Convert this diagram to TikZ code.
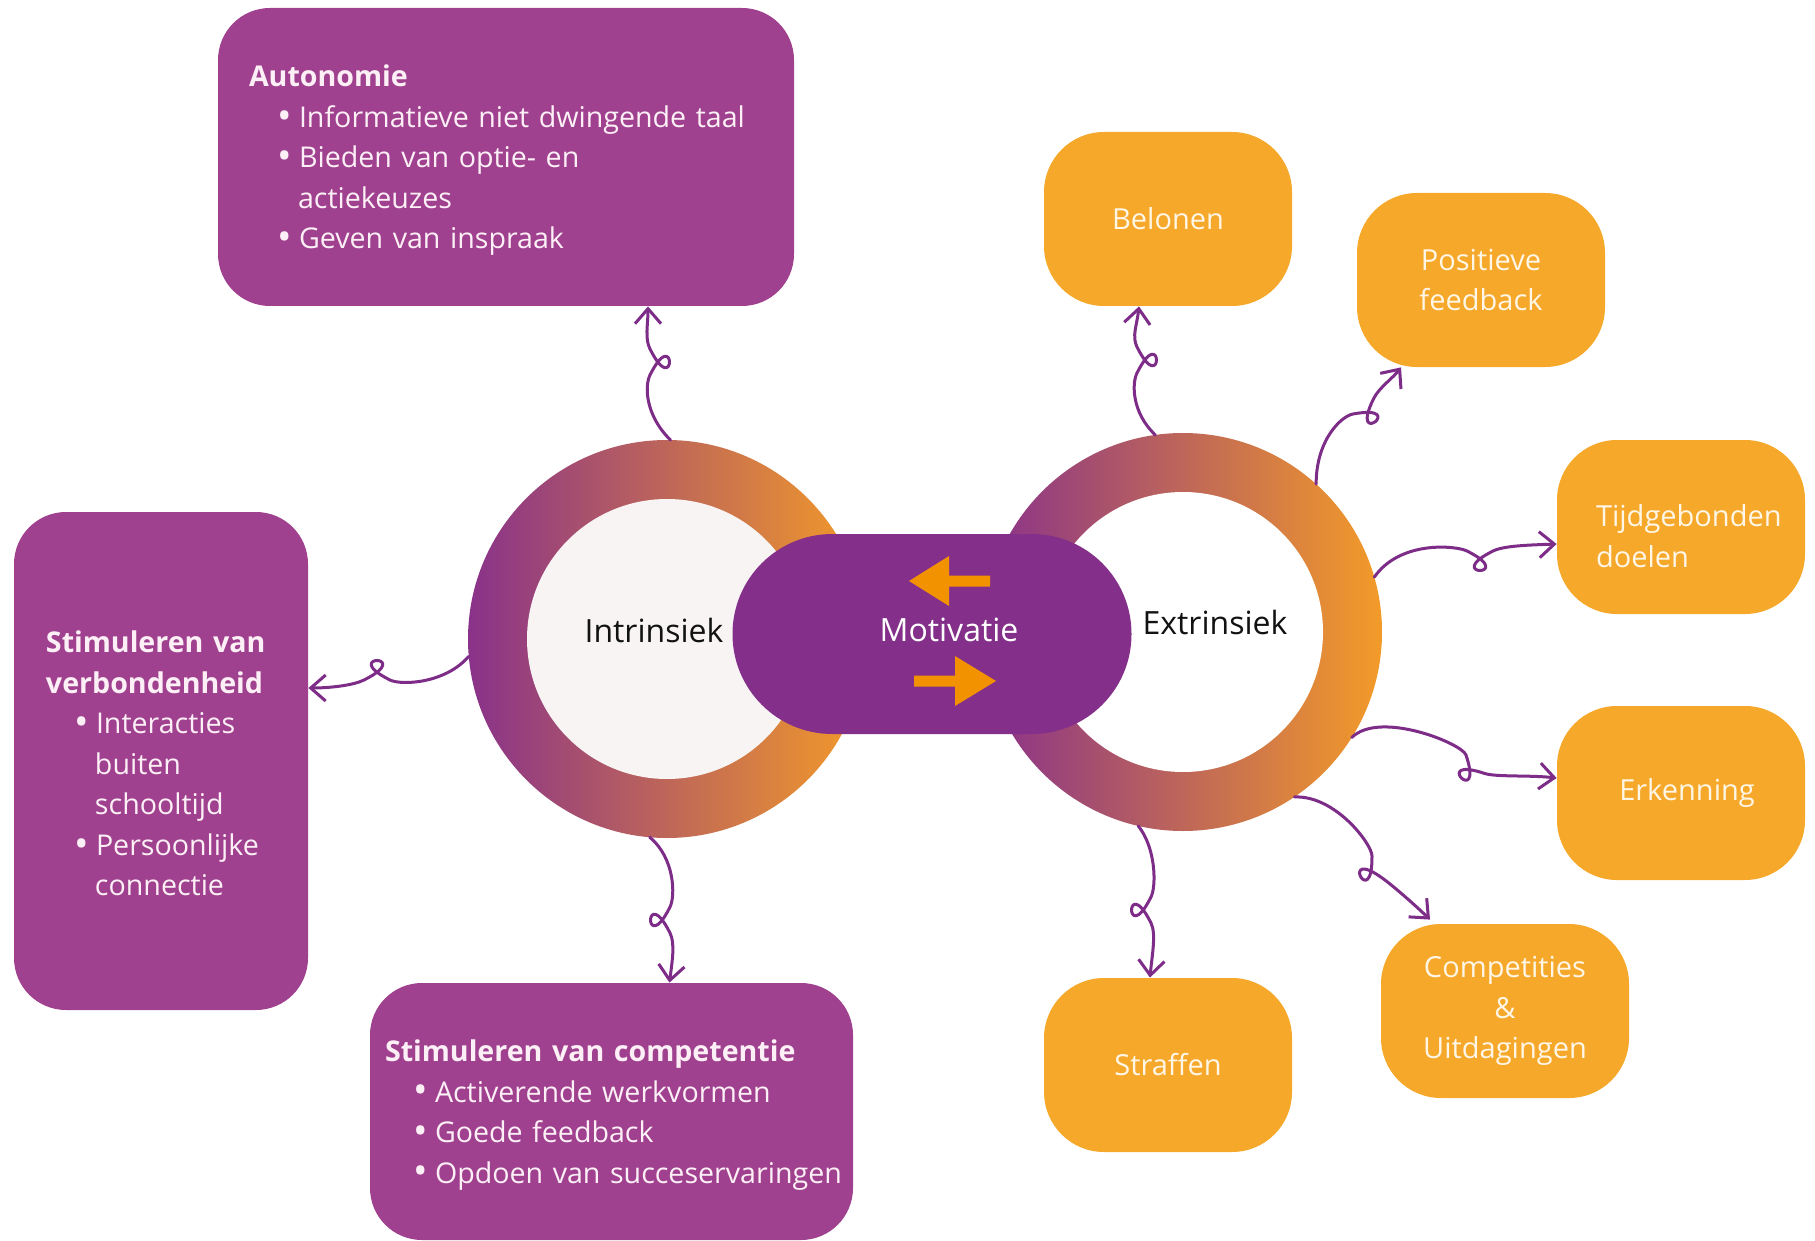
\documentclass[tikz,border=0pt]{standalone}
\usepackage{fontspec}
\usepackage{graphicx}
\setmainfont{Open Sans}
\usetikzlibrary{arrows.meta,calc}
\definecolor{boxpurple}{HTML}{A0418F}
\definecolor{pillpurple}{HTML}{84308A}
\definecolor{boxorange}{HTML}{F6A82A}
\definecolor{arrorange}{HTML}{F39200}
\definecolor{linepurple}{HTML}{7D2C88}
\definecolor{ringpurple}{HTML}{89328A}
\definecolor{ringorange}{HTML}{F39B28}
\definecolor{innergray}{HTML}{F8F4F4}
\definecolor{ptext}{HTML}{FCF0F6}
\definecolor{otext}{HTML}{FFF6E6}
\newcommand\bul[1]{\hspace*{14pt}\makebox[11pt][l]{\raisebox{-0.9pt}{\scalebox{1.35}{•}}}\mbox{#1}}
\newcommand\cont[1]{\hspace*{24.5pt}\mbox{#1}}
\newcommand\lowerby[1]{\par\vspace*{-#1}}
% loop connector: c1, L1, forward angle, loop size, handle, c4, end
\newcommand\curlpath[7]{.. controls (#1) and ($(#2)+(#3+206.57:#5)$) .. (#2) .. controls ($(#2)+(#3:2*#4)+(#3+90:#4)$) and ($(#2)+(#3:-#4)+(#3+90:#4)$) .. ($(#2)+(#3:#4)$) .. controls ($(#2)+(#3:#4)+(#3-26.57:#5)$) and (#6) .. (#7)}
\tikzset{
 pbox/.style={fill=boxpurple, rectangle, rounded corners=26pt, text=ptext, align=left,
   font=\fontsize{14.3pt}{20.25pt}\selectfont, inner ysep=0pt},
 obox/.style={fill=boxorange, rectangle, rounded corners=30pt, minimum width=124pt,
   minimum height=87pt, text=otext, align=center, font=\fontsize{14.5pt}{20.25pt}\selectfont, inner sep=0pt},
 ring/.style={circle, minimum size=199pt, inner sep=0pt, outer sep=0pt, left color=ringpurple, right color=ringorange},
 hole/.style={circle, minimum size=140pt, inner sep=0pt, outer sep=0pt},
 bigtext/.style={font=\fontsize{16pt}{19pt}\selectfont, inner sep=0pt},
 conn/.style={draw=linepurple, line width=1.5pt, line cap=round, line join=round,
   -{Straight Barb[length=7.5pt,width=13pt]}},
}
\begin{document}
\begin{tikzpicture}[x=0.5pt,y=-0.5pt]
\fill[white] (0,0) rectangle (1815,1241);
% rings and pill
\node[ring] (ringL) at (667,639) {};
\node[hole, fill=innergray] (holeL) at (667,639) {};
\node[ring] (ringR) at (1183,632) {};
\node[hole, fill=white] (holeR) at (1183,632) {};
\node[fill=pillpurple, rectangle, rounded corners=49.9pt, minimum width=199.5pt, minimum height=100pt, inner sep=0pt] (pill) at (932,634) {};
\fill[arrorange] (909,581) -- (949,556) -- (949,575.5) -- (990,575.5) -- (990,586.5) -- (949,586.5) -- (949,606) -- cycle;
\fill[arrorange] (996,681) -- (955,656) -- (955,675.5) -- (914,675.5) -- (914,686.5) -- (955,686.5) -- (955,706) -- cycle;
\node[bigtext, text=black!93] (tin) at (654,630) {Intrinsiek};
\node[bigtext, text=black!93] (tex) at (1215,622) {Extrinsiek};
\node[bigtext, text=white] (tmo) at (949,630) {Motivatie};
% purple boxes
\node[pbox, minimum height=149pt, inner xsep=15.5pt, text width=257pt] (auto) at (506,157) {%
\textbf{Autonomie}\\
\bul{Informatieve niet dwingende taal}\\
\bul{Bieden van optie- en}\\
\cont{actiekeuzes}\\
\bul{Geven van inspraak}\lowerby{3.5pt}};
\node[pbox, minimum height=249pt, inner xsep=16pt, text width=115pt] (verb) at (161,761) {%
\textbf{Stimuleren van}\\
\textbf{verbondenheid}\\
\bul{Interacties}\\
\cont{buiten}\\
\cont{schooltijd}\\
\bul{Persoonlijke}\\
\cont{connectie}\lowerby{2.5pt}};
\node[pbox, minimum height=128.5pt, inner xsep=7.5pt, text width=226.5pt] (comp) at (611.5,1111.5) {%
\textbf{Stimuleren van competentie}\\
\bul{Activerende werkvormen}\\
\bul{Goede feedback}\\
\bul{Opdoen van succeservaringen}\lowerby{3.5pt}};
% orange boxes
\node[obox] (belonen) at (1168,219) {Belonen};
\node[obox] (posfb) at (1481,280) {Positieve\\feedback};
\node[obox, align=left, text width=85pt] (tijd) at (1681,527) {\mbox{Tijdgebonden}\\doelen\lowerby{9pt}};
\node[obox] (erk) at (1681,793) {\hspace*{6pt}Erkenning};
\node[obox] (compet) at (1505,1011) {Competities\\\&\\Uitdagingen};
\node[obox] (straf) at (1168,1065) {Straffen};
% connector ends
\coordinate (c1e) at ([xshift=71pt]auto.south);
\coordinate (c2e) at ([yshift=36.5pt]verb.east);
\coordinate (c3e) at ([xshift=29pt]comp.north);
\coordinate (c4e) at ([xshift=-14.5pt]belonen.south);
\coordinate (c5e) at ([xshift=-40pt]posfb.south);
\coordinate (c6e) at ([yshift=-8.5pt]tijd.west);
\coordinate (c7e) at ([yshift=7.5pt]erk.west);
\coordinate (c8e) at ([xshift=-37.5pt,yshift=2pt]compet.north);
\coordinate (c9e) at ([xshift=-9pt]straf.north);
% connectors
\draw[conn] (ringL.89) \curlpath{645,415}{650,375}{-90}{26}{12}{648,325}{c1e};
\draw[conn] (ringL.185) \curlpath{445,684}{390,680}{180}{26}{12}{330,688}{c2e};
\draw[conn] (ringL.265) \curlpath{675,858}{670,907}{90}{26}{12}{672,962}{c3e};
\draw[conn] (ringR.98) \curlpath{1132,413}{1137,373}{-90}{26}{12}{1137,325}{c4e};
\draw[conn] (ringR.48) \curlpath{1316,440}{1353,414}{-37}{26}{12}{1393,378}{c5e};
\draw[conn] (ringR.16) \curlpath{1400,540}{1467,551}{0}{26}{12}{1530,545}{c6e};
\draw[conn] (ringR.328) \curlpath{1380,710}{1466,755}{45}{26}{12}{1530,775}{c7e};
\draw[conn] (ringR.304) \curlpath{1335,795}{1372,856}{63}{26}{12}{1415,905}{c8e};
\draw[conn] (ringR.257) \curlpath{1156,848}{1151,897}{90}{26}{12}{1152,955}{c9e};
\end{tikzpicture}
\end{document}
